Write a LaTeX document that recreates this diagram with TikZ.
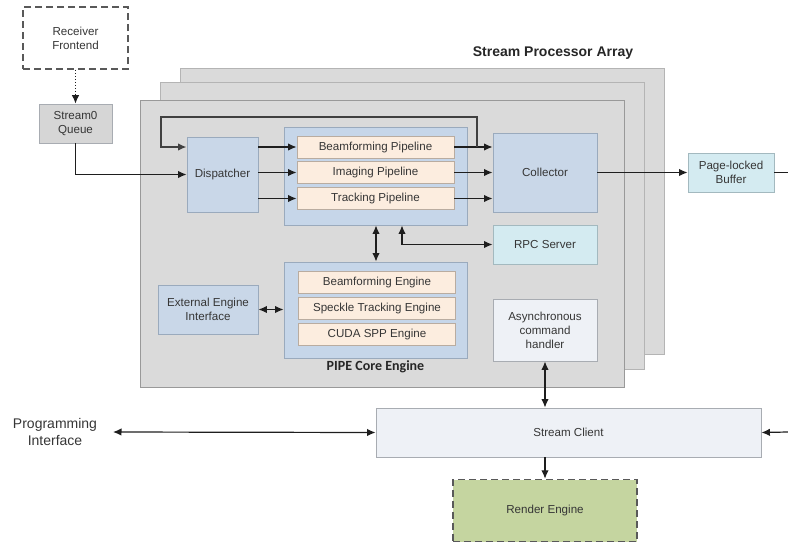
\documentclass[tikz,border=0pt]{standalone}
\usepackage{fontspec}
\setmainfont{Liberation Sans}
\newfontfamily\carl{Carlito}
\usetikzlibrary{arrows.meta,calc}
\definecolor{txt}{HTML}{363636}
\definecolor{panelfill}{HTML}{DADADA}
\definecolor{paneldraw}{HTML}{B4B4B4}
\definecolor{bluefill}{HTML}{C9D7E8}
\definecolor{contfill}{HTML}{C6D6E9}
\definecolor{bluedraw}{HTML}{9AAABD}
\definecolor{peach}{HTML}{FCEDDF}
\definecolor{peachdraw}{HTML}{B9ACA0}
\definecolor{cyanfill}{HTML}{D4EBF1}
\definecolor{cyandraw}{HTML}{A3B9BF}
\definecolor{palefill}{HTML}{EEF1F6}
\definecolor{paledraw}{HTML}{A8ACB2}
\definecolor{greenfill}{HTML}{C5D5A0}
\definecolor{grayfill}{HTML}{D6D6D6}
\definecolor{linec}{HTML}{1E1E1E}
\tikzset{
  every node/.style={font=\fontsize{11.6}{14}\selectfont, text=txt, align=center, inner sep=0pt},
  box/.style={draw, line width=0.9pt, rectangle},
  panel/.style={box, fill=panelfill, draw=paneldraw},
  bluebox/.style={box, fill=bluefill, draw=bluedraw},
  contbox/.style={box, fill=contfill, draw=bluedraw},
  peachbox/.style={box, fill=peach, draw=peachdraw},
  cyanbox/.style={box, fill=cyanfill, draw=cyandraw},
  palebox/.style={box, fill=palefill, draw=paledraw},
  graybox/.style={box, fill=grayfill, draw=paledraw},
  dashbox/.style={draw=black!65, line width=1.5pt, dash pattern=on 7pt off 4pt},
  arr/.style={draw=linec, line width=1.2pt, -{Latex[length=8.5pt,width=7.5pt]}},
  darr/.style={draw=linec, line width=1.2pt, {Latex[length=8.5pt,width=7.5pt]}-{Latex[length=8.5pt,width=7.5pt]}},
  plain/.style={draw=linec, line width=1.2pt},
  loopline/.style={draw=black!75, line width=1.6pt, -{Latex[length=8.5pt,width=7.5pt]}},
}
\begin{document}
\begin{tikzpicture}[x=1pt,y=-1pt]
\useasboundingbox (0,0) rectangle (788,544);
% stacked panels
\node[panel, minimum width=484, minimum height=286] (pback) at (422,211) {};
\node[panel, minimum width=484, minimum height=287] (pmid) at (402,225.5) {};
\node[panel, draw=black!40, minimum width=484, minimum height=287] (pfront) at (382,243.5) {};
\node[font=\fontsize{14}{16}\selectfont\bfseries, text=black!85] (spa) at (553,53) {Stream Processor Array};

% top left
\node[dashbox, fill=white, minimum width=105, minimum height=62] (recv) at (75.5,38) {Receiver\\Frontend};
\node[graybox, minimum width=73, minimum height=39] (sq) at (75.5,123.5) {Stream0\\Queue};

% inner boxes
\node[bluebox, minimum width=71, minimum height=75] (disp) at (222.5,174.5) {Dispatcher};
\node[contbox, minimum width=183, minimum height=98] (pipec) at (375.5,176) {};
\node[peachbox, minimum width=157, minimum height=22] (bfp) at (375.5,147) {Beamforming Pipeline};
\node[peachbox, minimum width=157, minimum height=22] (imp) at (375.5,172.5) {Imaging Pipeline};
\node[peachbox, minimum width=157, minimum height=22] (trp) at (375.5,198.5) {Tracking Pipeline};
\node[bluebox, minimum width=104, minimum height=79] (coll) at (545,172.5) {Collector};
\node[cyanbox, minimum width=104, minimum height=39] (rpc) at (545,244.5) {RPC Server};
\node[cyanbox, minimum width=86, minimum height=39] (plb) at (731,172.5) {Page-locked\\Buffer};

\node[contbox, minimum width=183, minimum height=96] (corec) at (375.5,310) {};
\node[peachbox, minimum width=157, minimum height=22] (bfe) at (377,282) {Beamforming Engine};
\node[peachbox, minimum width=157, minimum height=22] (ste) at (377,308) {Speckle Tracking Engine};
\node[peachbox, minimum width=157, minimum height=22] (cse) at (377,334) {CUDA SPP Engine};
\node[font=\fontsize{14}{16}\selectfont\carl\bfseries, text=black!85] (pcl) at (375.5,367) {PIPE Core Engine};
\node[bluebox, minimum width=100, minimum height=49] (ext) at (208,309.5) {External Engine\\Interface};
\node[palebox, minimum width=104, minimum height=62] (async) at (545,330) {Asynchronous\\command\\handler};

% bottom
\node[palebox, minimum width=385, minimum height=49] (sc) at (568.5,432.5) {Stream Client};
\node[dashbox, fill=greenfill, minimum width=184, minimum height=62] (render) at (545,510.5) {Render Engine};
\node[font=\fontsize{14}{17}\selectfont] (pi) at (55,432) {Programming\\Interface};

% coordinates
\coordinate (jn) at (477,147);
\coordinate (loopL) at (161,117);
\coordinate (rpcx) at (402,0);
\coordinate (vx) at (376,0);
\coordinate (pia) at (113,432);
\coordinate (redge) at (788,172.5);
\coordinate (scin) at (788,432);

% connectors
\draw[arr, dash pattern=on 1.5pt off 1.5pt, line width=1pt] (recv.south) -- (sq.north);
\draw[arr] (sq.south) |- (disp.west);
\draw[arr] (disp.east |- bfp.west) -- (bfp.west);
\draw[arr] (disp.east |- imp.west) -- (imp.west);
\draw[arr] (disp.east |- trp.west) -- (trp.west);
\draw[arr] (bfp.east) -- (coll.west |- bfp.east);
\draw[arr] (imp.east) -- (coll.west |- imp.east);
\draw[arr] (trp.east) -- (coll.west |- trp.east);
\draw[loopline] (jn) |- (loopL) |- (disp.west |- bfp.west);
\draw[arr] (coll.east) -- (plb.west);
\draw[plain] (plb.east) -- (redge);
\draw[darr] (pipec.south -| rpcx) |- (rpc.west);
\draw[darr] (pipec.south -| vx) -- (corec.north -| vx);
\draw[darr] (ext.east) -- (corec.west |- ext.east);
\draw[darr] (async.south) -- (sc.north -| async.south);
\draw[darr] (pia) -- (sc.west);
\draw[arr] (scin) -- (sc.east);
\draw[arr] (sc.south -| render.north) -- (render.north);
\end{tikzpicture}
\end{document}
